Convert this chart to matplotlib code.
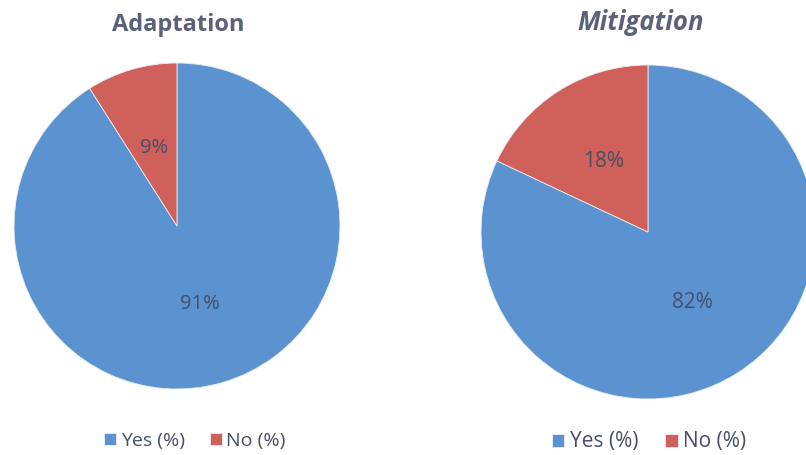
import matplotlib.pyplot as plt

categories = ['Yes (%)', 'No (%)']
adaptation = [91, 9]
mitigation = [82, 18]
titles = ['Adaptation', 'Mitigation']

colors = ['#5b93d0', '#d0605a']
W, H = 806, 455


def draw(box, values, title, title_style, title_x, title_y, title_size, label_size):
  x0, y0, x1, y1 = box
  ax = fig.add_axes([x0 / W, (H - y1) / H, (x1 - x0) / W, (y1 - y0) / H])
  wedges, _, autotexts = ax.pie(values, colors=colors, startangle=90, counterclock=False,
                                autopct='%1.0f%%', pctdistance=0.5,
                                wedgeprops=dict(edgecolor='#e8eef6', linewidth=0.6))
  for t in autotexts:
    t.set_color('#44506a')
    t.set_fontsize(label_size)
    t.set_fontfamily('Open Sans')
  ax.set_xlim(-1, 1)
  ax.set_ylim(-1, 1)
  ax.set_aspect('equal')
  ax.axis('off')
  fig.text(title_x / W, 1 - title_y / H, title, ha='center', va='center', fontsize=title_size,
           fontweight='bold', fontstyle=title_style, color='#59627a', fontfamily='Open Sans')
  return ax, wedges


fig = plt.figure(figsize=(W / 100, H / 100), dpi=100)

ax1, w1 = draw((14, 63, 340, 389), adaptation, titles[0], 'normal', 178, 25, 17, 14.5)
ax2, w2 = draw((481, 65, 815, 399), mitigation, titles[1], 'italic', 641, 22, 18.5, 15)

fig.legend(w1, categories, loc='center', bbox_to_anchor=(195 / W, 1 - 441 / H), ncol=2,
           frameon=False, handlelength=0.6, handleheight=0.6, columnspacing=1.3, handletextpad=0.25,
           prop=dict(family='Open Sans', size=14), labelcolor='#44506a')
fig.legend(w2, categories, loc='center', bbox_to_anchor=(649 / W, 1 - 442 / H), ncol=2,
           frameon=False, handlelength=0.6, handleheight=0.6, columnspacing=1.3, handletextpad=0.25,
           prop=dict(family='Open Sans', size=15), labelcolor='#44506a')

plt.savefig('out.png', dpi=100)
